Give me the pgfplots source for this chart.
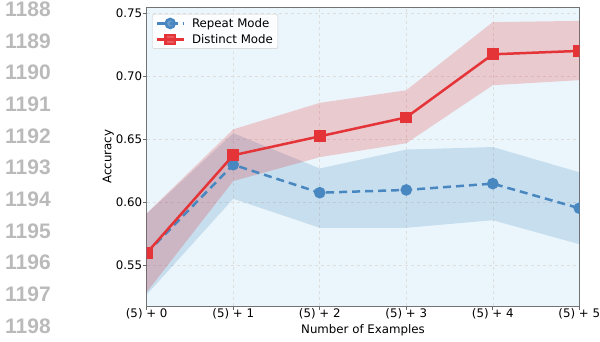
\documentclass[border=0pt]{standalone}
\usepackage{fontspec}
\setmainfont{DejaVu Sans}
\newfontfamily\lnfont{Liberation Sans}
\usepackage{pgfplots}
\pgfplotsset{compat=1.18}
\usepgfplotslibrary{fillbetween}
\definecolor{setblue}{RGB}{55,126,184}
\definecolor{setred}{RGB}{228,26,28}
\definecolor{lineblue}{RGB}{72,135,192}
\definecolor{linered}{RGB}{228,52,56}
\definecolor{bgblue}{RGB}{235,246,252}
\begin{document}
\begin{tikzpicture}[x=1pt,y=1pt]
\foreach \n [count=\i from 0] in {1188,...,1198} {
  \node[anchor=west, font=\lnfont\bfseries\fontsize{21}{21}\selectfont, text=black!27, inner sep=0pt] at (5, {341-9.3-31.67*\i}) {\n};
}
\begin{axis}[
  at={(146.7pt,35pt)}, anchor=south west,
  scale only axis, width=432.6pt, height=299pt,
  xmin=0, xmax=5, ymin=0.518, ymax=0.755,
  axis background/.style={fill=bgblue},
  xtick={0,1,2,3,4,5},
  xticklabels={(5) + 0,(5) + 1,(5) + 2,(5) + 3,(5) + 4,(5) + 5},
  ytick={0.55,0.60,0.65,0.70,0.75},
  /pgf/number format/assume math mode=true,
  /pgf/number format/fixed, /pgf/number format/fixed zerofill, /pgf/number format/precision=2,
  xticklabel style={yshift=4.5pt},
  yticklabel style={xshift=2.4pt},
  tick align=outside, xtick pos=bottom, ytick pos=left,
  major tick length=3.5pt,
  tick style={black!60, line width=0.8pt},
  axis line style={black!55, line width=0.8pt},
  grid=major, grid style={dashed, black!13, line width=0.5pt},
  tick label style={font=\fontsize{11.8}{14}\selectfont},
  label style={font=\fontsize{11.8}{14}\selectfont},
  xlabel={Number of Examples}, ylabel={Accuracy},
  xlabel style={at={(axis description cs:0.5,-0.081)}, anchor=center},
  ylabel style={at={(axis description cs:-0.0888,0.5)}, anchor=center},
  clip marker paths=true,
  legend cell align=left,
  legend style={at={(0,1)}, anchor=north west, xshift=5.6pt, yshift=-7pt,
    draw=black!20, rounded corners=2pt, fill=white, fill opacity=0.8, text opacity=1,
    font=\fontsize{11.8}{14}\selectfont, row sep=1.5pt, column sep=5pt, inner xsep=3pt, inner ysep=2pt},
  legend image code/.code={\draw[mark repeat=2,mark phase=2] plot coordinates {(0pt,0pt) (13.5pt,0pt) (27pt,0pt)};},
]
% Repeat Mode band
\addplot[name path=bu, draw=none, forget plot] coordinates {(0,0.591) (1,0.655) (2,0.627) (3,0.642) (4,0.644) (5,0.624)};
\addplot[name path=bl, draw=none, forget plot] coordinates {(0,0.527) (1,0.603) (2,0.580) (3,0.580) (4,0.586) (5,0.567)};
\addplot[setblue, fill opacity=0.2, forget plot] fill between[of=bu and bl];
% Distinct Mode band
\addplot[name path=ru, draw=none, forget plot] coordinates {(0,0.5915) (1,0.658) (2,0.679) (3,0.689) (4,0.743) (5,0.744)};
\addplot[name path=rl, draw=none, forget plot] coordinates {(0,0.529) (1,0.617) (2,0.636) (3,0.647) (4,0.693) (5,0.697)};
\addplot[setred, fill opacity=0.2, forget plot] fill between[of=ru and rl];
% lines
\addplot[lineblue, line width=2.5pt, dash pattern=on 8pt off 5pt, mark=*, mark size=4.5pt, mark options={solid}] coordinates {(0,0.560) (1,0.630) (2,0.6078) (3,0.610) (4,0.615) (5,0.5955)};
\addlegendentry{Repeat Mode}
\addplot[linered, line width=2.5pt, mark=square*, mark size=4.6pt, mark options={solid}] coordinates {(0,0.560) (1,0.6375) (2,0.6525) (3,0.6675) (4,0.7175) (5,0.7202)};
\addlegendentry{Distinct Mode}
\end{axis}
\pgfresetboundingbox
\path[use as bounding box] (0,0) rectangle (600,341);
\end{tikzpicture}
\end{document}
